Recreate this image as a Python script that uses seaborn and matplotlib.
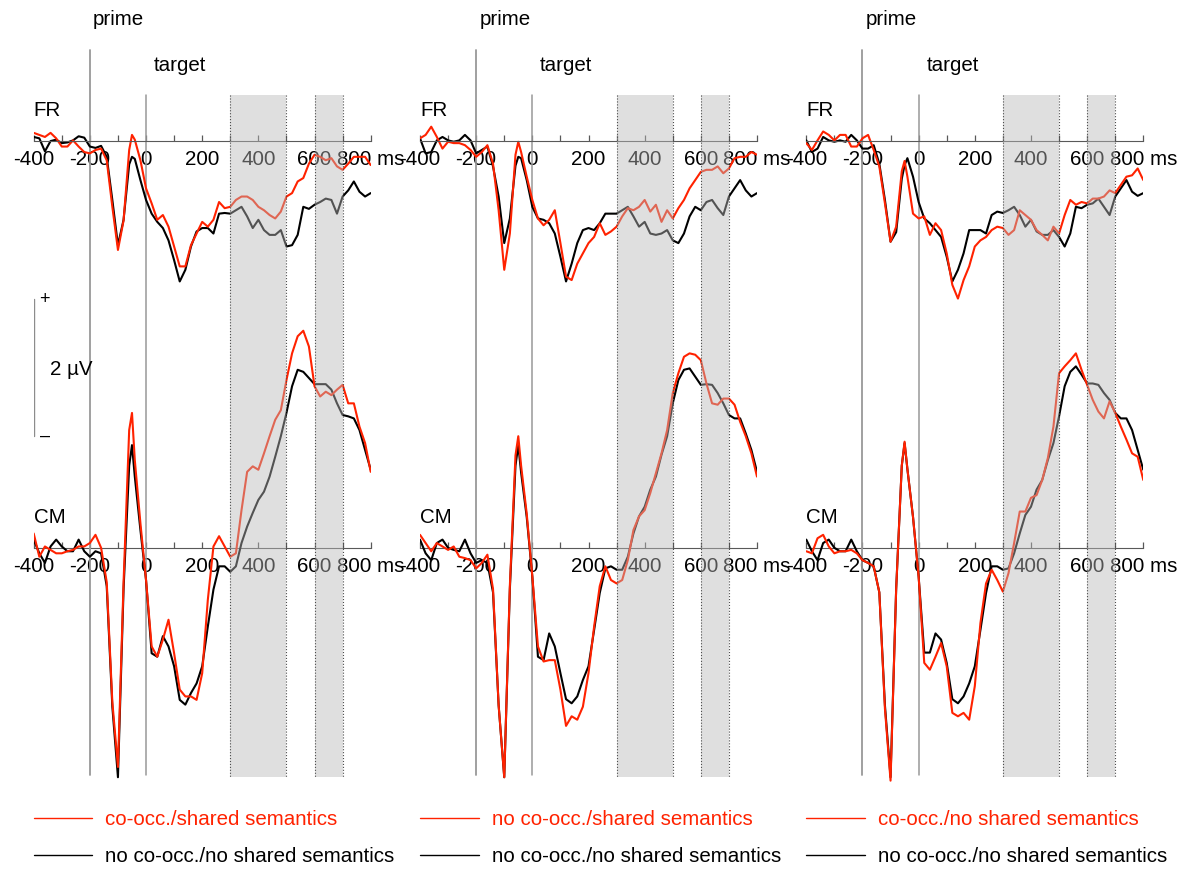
import numpy as np
import matplotlib
matplotlib.use("Agg")
import matplotlib.pyplot as plt
from matplotlib.lines import Line2D
from matplotlib.ticker import MultipleLocator
import seaborn as sns

time_ms = np.array(list(range(-400, -59, 20)) + [-50] + list(range(-40, 801, 20)))

# amplitudes in microvolts, one list per electrode / condition / panel
fr_black_1 = [0.06, 0.04, -0.15, 0.00, 0.02, -0.03, -0.02, 0.01, 0.07, 0.05,
              -0.08, -0.10, -0.07, -0.23, -0.86, -1.52, -1.15, -0.34, -0.23, -0.26, -0.57,
              -0.86, -1.06, -1.18, -1.27, -1.45, -1.74, -2.05, -1.88, -1.54, -1.32,
              -1.27, -1.27, -1.35, -1.06, -1.05, -1.06, -1.01, -0.96, -1.10, -1.27,
              -1.15, -1.30, -1.37, -1.37, -1.30, -1.54, -1.52, -1.37, -0.96, -0.99,
              -0.93, -0.89, -0.84, -0.86, -1.06, -0.81, -0.72, -0.59, -0.74, -0.81, -0.76]
fr_red_1 = [0.12, 0.09, 0.06, 0.12, 0.04, -0.08, -0.08, 0.01, -0.08, -0.16,
            -0.18, -0.13, -0.11, -0.28, -0.96, -1.59, -1.16, -0.13, 0.09, 0.02, -0.28,
            -0.69, -0.91, -1.15, -1.08, -1.25, -1.54, -1.83, -1.83, -1.52, -1.35,
            -1.18, -1.25, -1.15, -0.89, -0.98, -0.96, -0.86, -0.81, -0.81, -0.86,
            -0.96, -1.01, -1.08, -1.13, -1.03, -0.81, -0.76, -0.59, -0.54, -0.33,
            -0.20, -0.23, -0.28, -0.25, -0.37, -0.42, -0.33, -0.23, -0.23, -0.23, -0.35]
cm_black_1 = [0.12, -0.08, -0.22, 0.02, 0.12, 0.02, -0.05, -0.05, 0.12, -0.05,
              -0.13, -0.05, -0.08, -0.56, -2.32, -3.35, -0.60, 1.20, 1.50, 1.04, 0.26,
              -0.47, -1.54, -1.59, -1.29, -1.44, -1.73, -2.22, -2.29, -2.12, -1.98,
              -1.73, -1.15, -0.61, -0.27, -0.27, -0.35, -0.27, 0.07, 0.31, 0.51,
              0.70, 0.82, 1.04, 1.33, 1.63, 1.97, 2.36, 2.60, 2.57, 2.48,
              2.39, 2.39, 2.39, 2.31, 2.11, 1.94, 1.92, 1.89, 1.72, 1.43, 1.14]
cm_red_1 = [0.21, -0.13, 0.02, -0.03, -0.08, -0.08, -0.05, -0.03, 0.02, 0.02,
            0.07, 0.19, 0.00, -0.50, -2.25, -3.20, -0.50, 1.72, 1.97, 1.28, 0.36,
            -0.47, -1.44, -1.59, -1.34, -1.05, -1.54, -2.07, -2.17, -2.17, -2.22,
            -1.83, -0.76, 0.02, 0.17, 0.02, -0.13, -0.08, 0.55, 1.11, 1.19,
            1.14, 1.38, 1.63, 1.87, 2.01, 2.45, 2.84, 3.09, 3.17, 2.94,
            2.36, 2.21, 2.28, 2.23, 2.31, 2.38, 2.11, 2.11, 1.77, 1.53, 1.11]

fr_black_2 = [0.04, -0.18, -0.16, 0.01, 0.06, 0.01, -0.01, 0.01, 0.09, 0.01,
              -0.18, -0.13, -0.08, -0.37, -0.81, -1.49, -1.13, -0.36, -0.23, -0.25, -0.57,
              -0.96, -1.13, -1.15, -1.20, -1.35, -1.69, -2.05, -1.79, -1.49, -1.30,
              -1.27, -1.30, -1.20, -1.06, -1.06, -1.06, -1.01, -0.96, -1.10, -1.25,
              -1.18, -1.35, -1.37, -1.35, -1.30, -1.45, -1.49, -1.35, -1.10, -0.96,
              -1.01, -0.89, -0.86, -0.98, -1.08, -0.81, -0.69, -0.57, -0.72, -0.81, -0.76]
fr_red_2 = [0.04, 0.09, 0.21, 0.06, -0.11, -0.01, -0.03, -0.03, -0.06, -0.13,
            -0.23, -0.16, -0.06, -0.33, -1.01, -1.88, -1.35, -0.20, -0.01, -0.16, -0.52,
            -0.86, -1.13, -1.23, -1.15, -1.01, -1.49, -1.98, -2.03, -1.79, -1.64,
            -1.49, -1.40, -1.20, -1.37, -1.32, -1.25, -1.10, -0.98, -1.01, -0.96,
            -0.86, -1.03, -0.93, -1.18, -1.01, -1.13, -0.98, -0.86, -0.69, -0.57,
            -0.45, -0.42, -0.42, -0.37, -0.47, -0.40, -0.25, -0.23, -0.23, -0.16, -0.20]
cm_black_2 = [0.12, -0.08, -0.18, 0.07, 0.12, 0.00, -0.03, -0.05, 0.12, -0.08,
              -0.22, -0.18, -0.22, -0.65, -2.30, -3.35, -0.60, 1.20, 1.50, 1.10, 0.45,
              -0.42, -1.59, -1.64, -1.25, -1.44, -1.83, -2.21, -2.27, -2.17, -1.93,
              -1.73, -1.20, -0.66, -0.30, -0.27, -0.32, -0.32, -0.13, 0.21, 0.46,
              0.60, 0.85, 1.04, 1.36, 1.63, 2.11, 2.45, 2.60, 2.62, 2.50,
              2.38, 2.39, 2.38, 2.26, 2.11, 1.94, 1.89, 1.89, 1.67, 1.43, 1.11]
cm_red_2 = [0.19, 0.07, -0.05, 0.07, 0.02, -0.03, 0.02, -0.13, -0.15, -0.18,
            -0.30, -0.22, -0.10, -0.60, -2.30, -3.35, -0.55, 1.35, 1.63, 1.20, 0.50,
            -0.42, -1.44, -1.66, -1.64, -1.64, -2.07, -2.60, -2.46, -2.51, -2.32,
            -1.83, -1.15, -0.56, -0.27, -0.47, -0.52, -0.47, -0.18, 0.26, 0.46,
            0.55, 0.80, 1.09, 1.38, 1.72, 2.26, 2.55, 2.79, 2.84, 2.82,
            2.74, 2.40, 2.11, 2.09, 2.18, 2.18, 2.09, 1.84, 1.63, 1.38, 1.04]

fr_black_3 = [0.01, -0.16, -0.11, 0.06, 0.01, -0.01, 0.01, -0.01, 0.09, 0.01,
              -0.11, -0.11, -0.06, -0.33, -0.86, -1.47, -1.33, -0.55, -0.35, -0.25, -0.52,
              -0.89, -1.13, -1.20, -1.30, -1.40, -1.69, -2.05, -1.88, -1.64, -1.30,
              -1.30, -1.30, -1.35, -1.08, -1.03, -1.05, -1.01, -0.96, -1.08, -1.25,
              -1.15, -1.32, -1.37, -1.37, -1.30, -1.40, -1.54, -1.35, -0.96, -0.98,
              -0.93, -0.91, -0.84, -0.96, -1.08, -0.81, -0.69, -0.57, -0.74, -0.80, -0.76]
fr_red_3 = [-0.03, -0.13, 0.01, 0.14, 0.09, 0.01, 0.09, 0.09, -0.08, -0.08,
            0.04, 0.09, -0.13, -0.37, -0.91, -1.47, -1.25, -0.44, -0.29, -0.52, -1.06,
            -1.13, -1.10, -1.37, -1.20, -1.30, -1.64, -2.10, -2.30, -2.03, -1.83,
            -1.54, -1.45, -1.40, -1.30, -1.25, -1.27, -1.37, -1.30, -1.01, -1.08,
            -1.15, -1.30, -1.37, -1.45, -1.25, -1.35, -1.08, -0.86, -0.93, -0.89,
            -0.91, -0.84, -0.84, -0.81, -0.72, -0.76, -0.64, -0.52, -0.50, -0.40, -0.57]
cm_black_3 = [0.12, -0.05, -0.18, 0.07, 0.12, 0.00, -0.05, -0.05, 0.12, -0.05,
              -0.18, -0.22, -0.27, -0.65, -2.30, -3.35, -0.60, 1.20, 1.53, 1.15, 0.45,
              -0.42, -1.53, -1.53, -1.25, -1.34, -1.68, -2.21, -2.27, -2.17, -1.98,
              -1.73, -1.20, -0.66, -0.27, -0.27, -0.32, -0.30, -0.08, 0.21, 0.48,
              0.60, 0.85, 0.99, 1.28, 1.53, 1.92, 2.36, 2.57, 2.65, 2.53,
              2.40, 2.40, 2.38, 2.26, 2.16, 1.97, 1.89, 1.89, 1.72, 1.43, 1.14]
cm_red_3 = [-0.05, -0.08, 0.14, 0.19, 0.02, -0.08, -0.05, -0.05, -0.03, -0.08,
            -0.18, -0.22, -0.27, -0.65, -2.35, -3.40, -0.60, 1.20, 1.55, 1.15, 0.45,
            -0.42, -1.68, -1.78, -1.59, -1.39, -1.73, -2.41, -2.46, -2.41, -2.51,
            -2.02, -1.10, -0.52, -0.32, -0.47, -0.64, -0.37, 0.07, 0.53, 0.53,
            0.73, 0.77, 0.99, 1.31, 1.77, 2.55, 2.65, 2.74, 2.84, 2.60,
            2.38, 2.16, 1.99, 1.89, 2.14, 1.97, 1.77, 1.58, 1.38, 1.33, 0.99]

red_labels = ["co-occ./shared semantics", "no co-occ./shared semantics",
              "co-occ./no shared semantics"]
black_label = "no co-occ./no shared semantics"

tick_values = [-400, -200, 0, 200, 400, 600, 800]
tick_labels = ["-400", "-200", "0", "200", "400", "600", "800 ms"]
windows = [(300, 500), (600, 700)]

panels = [
    (fr_black_1, fr_red_1, cm_black_1, cm_red_1),
    (fr_black_2, fr_red_2, cm_black_2, cm_red_2),
    (fr_black_3, fr_red_3, cm_black_3, cm_red_3),
]

RED = "#ff2200"
FS = 14.8
CM_OFFSET = -5.94            # vertical offset of the CM trace (uV)
Y_LIM = (-10.63, 2.06)

sns.set_style("white")
plt.rcParams["font.family"] = ["Liberation Sans", "DejaVu Sans"]
plt.rcParams["text.color"] = "black"

fig = plt.figure(figsize=(11.88, 8.69), dpi=100)


def style_axis(a):
    a.set_xticks(tick_values, labels=tick_labels)
    a.xaxis.set_minor_locator(MultipleLocator(100))
    a.tick_params(axis="x", which="both", bottom=True, direction="in", length=4.5,
                  width=0.9, color="0.35", pad=6.5, labelsize=FS, labelcolor="black")


for i, (fr_k, fr_r, cm_k, cm_r) in enumerate(panels):
    ax = fig.add_axes([(33.7 + 386.3 * i) / 1188, 0, 337 / 1188, 1])
    ax.set_xlim(-400, 800)
    ax.set_ylim(*Y_LIM)
    ax.set_facecolor("none")

    # prime and target onsets
    ax.plot([-200, -200], [1.33, -9.26], color="0.6", lw=1.3, zorder=1)
    ax.plot([0, 0], [0.67, -9.26], color="0.6", lw=1.1, zorder=1)

    for vals, col in [(fr_k, "black"), (fr_r, RED)]:
        sns.lineplot(x=time_ms, y=np.asarray(vals), ax=ax, color=col, lw=1.5,
                     estimator=None, sort=False, zorder=2, solid_joinstyle="round")
    for vals, col in [(cm_k, "black"), (cm_r, RED)]:
        sns.lineplot(x=time_ms, y=np.asarray(vals) + CM_OFFSET, ax=ax, color=col,
                     lw=1.5, estimator=None, sort=False, zorder=2, solid_joinstyle="round")

    # analysis windows
    for a, b in windows:
        ax.axvspan(a, b, ymin=0.106, ymax=0.891, facecolor=(0.73, 0.73, 0.73, 0.45),
                   edgecolor="none", zorder=4)
        for xe in (a, b):
            ax.plot([xe, xe], [0.67, -9.29], ls=":", color="0.3", lw=0.8, zorder=4.5)

    # axes: FR baseline via the main axis, CM baseline via a secondary axis
    for s in ["left", "right", "top"]:
        ax.spines[s].set_visible(False)
    ax.spines["bottom"].set_position(("data", 0))
    ax.spines["bottom"].set_color("0.35")
    ax.set_yticks([])
    style_axis(ax)

    sec = ax.secondary_xaxis(1 - 548 / 869)
    style_axis(sec)
    sec.spines["bottom"].set_color("0.35")
    sec.spines["top"].set_visible(False)

    ax.text(-189, 1.77, "prime", fontsize=FS, va="center", ha="left")
    ax.text(28, 1.11, "target", fontsize=FS, va="center", ha="left")
    ax.text(-400, 0.44, "FR", fontsize=FS, va="center", ha="left")
    ax.text(-400, -5.50, "CM", fontsize=FS, va="center", ha="left")

    if i == 0:
        ax.plot([-400, -400], [-2.31, -4.31], color="0.55", lw=1.0, zorder=1)
        ax.text(-362, -2.31, "+", fontsize=13, va="center", ha="center")
        ax.text(-361, -4.31, "\u2013", fontsize=13, va="center", ha="center")
        ax.text(-342, -3.33, "2 \u00b5V", fontsize=FS, va="center", ha="left")

    handles = [Line2D([], [], color=RED, lw=1.0), Line2D([], [], color="black", lw=1.0)]
    ax.legend(handles, [red_labels[i], black_label], loc="upper left",
              bbox_to_anchor=(0, 0.068), frameon=False, fontsize=FS,
              handlelength=2.85, handletextpad=0.63, labelspacing=0.9,
              borderpad=0, borderaxespad=0, labelcolor=[RED, "black"])

fig.savefig("out.png", dpi=100)
